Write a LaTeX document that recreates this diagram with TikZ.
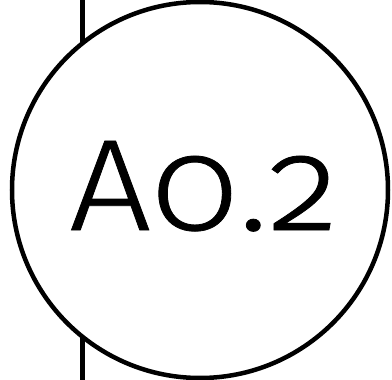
\documentclass[tikz,border=0pt]{standalone}
\usepackage{fontspec}
\setmainfont[Numbers=OldStyle,UprightFont={* Light},FakeStretch=1.12,FakeBold=0.6]{Fira Sans}
\usepackage{tikz}
\usetikzlibrary{positioning}

\begin{document}
\begin{tikzpicture}[x=1pt,y=-1pt,
  ring/.style={circle,draw=black,fill=white,line width=4.5pt,
               minimum size=376pt,inner sep=0pt},
  stem/.style={draw=black,line width=5pt},
  tag/.style={font=\fontsize{130}{130}\selectfont},
]
\useasboundingbox (0,0) rectangle (392,380);
% ---------- stem behind the ring ----------
\coordinate (top) at (82.5,0);
\coordinate (bot) at (82.5,380);
\draw[stem] (top) -- (bot);
% ---------- ring with its tag ----------
\node[ring] (ring) at (200,190) {};
\node[tag,anchor=base] (lbl) at (204,230) {A0.2};
\end{tikzpicture}
\end{document}
